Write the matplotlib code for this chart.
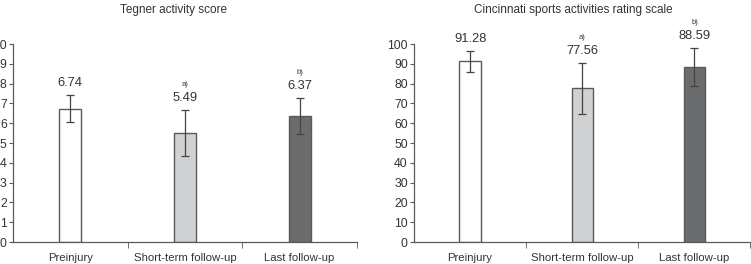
import matplotlib
matplotlib.use('Agg')
import matplotlib.pyplot as plt
import numpy as np

categories = ['Preinjury', 'Short-term follow-up', 'Last follow-up']

tegner_mean = [6.74, 5.49, 6.37]
tegner_err = [0.69, 1.17, 0.9]

cincy_mean = [91.28, 77.56, 88.59]
cincy_err = [5.3, 12.9, 9.6]

marks = ['', 'a)', 'b)']

bar_colors = ['#ffffff', '#cfd1d2', '#6b6c6e']
edge = '#5a5a5a'

plt.rcParams['font.family'] = 'Liberation Sans'

fig = plt.figure(figsize=(7.51, 2.64), dpi=100)


def panel(rect, means, errs, ymax, step, fmt, lab_off, mark_off):
    ax = fig.add_axes(rect)
    x = np.arange(len(means))
    ax.bar(x, means, width=0.19, color=bar_colors, edgecolor=edge, linewidth=1.0, zorder=2)
    ax.errorbar(x, means, yerr=errs, fmt='none', ecolor='#444444', elinewidth=0.9,
                capsize=2.6, capthick=0.9, zorder=3)
    for i in range(len(means)):
        top = means[i] + errs[i]
        ax.text(x[i], top + lab_off, fmt.format(means[i]), ha='center', va='bottom',
                fontsize=9.3, color='#333333')
        if marks[i]:
            ax.text(x[i], top + mark_off, marks[i], ha='center', va='bottom',
                    fontsize=5.5, color='#333333')
    ax.set_xlim(-0.5, 2.5)
    ax.set_ylim(0, ymax)
    ax.set_yticks(np.arange(0, ymax + step / 2, step))
    ax.set_xticks(x)
    ax.set_xticklabels(categories, fontsize=8.2)
    ax.set_xticks([0.5, 1.5, 2.5], minor=True)
    ax.tick_params(axis='x', which='major', length=0, pad=8, colors='#333333')
    ax.tick_params(axis='x', which='minor', length=4, direction='out', color=edge)
    ax.tick_params(axis='y', length=3, direction='out', labelsize=8.8, color=edge,
                   labelcolor='#333333', pad=1.5)
    for s in ['top', 'right']:
        ax.spines[s].set_visible(False)
    for s in ['left', 'bottom']:
        ax.spines[s].set_color(edge)
        ax.spines[s].set_linewidth(0.9)
    ax.patch.set_alpha(0)
    return ax


panel([0.0173, 0.0833, 0.458, 0.75], tegner_mean, tegner_err, 10, 1, '{:.2f}', 0.3, 1.1)
panel([0.5513, 0.0833, 0.448, 0.75], cincy_mean, cincy_err, 100, 10, '{:.2f}', 2.8, 11.0)

fig.text(0.231, 0.962, 'Tegner activity score', ha='center', va='center', fontsize=8.5, color='#333333')
fig.text(0.763, 0.962, 'Cincinnati sports activities rating scale', ha='center', va='center',
         fontsize=8.5, color='#333333')

fig.savefig('out.png', dpi=100)
